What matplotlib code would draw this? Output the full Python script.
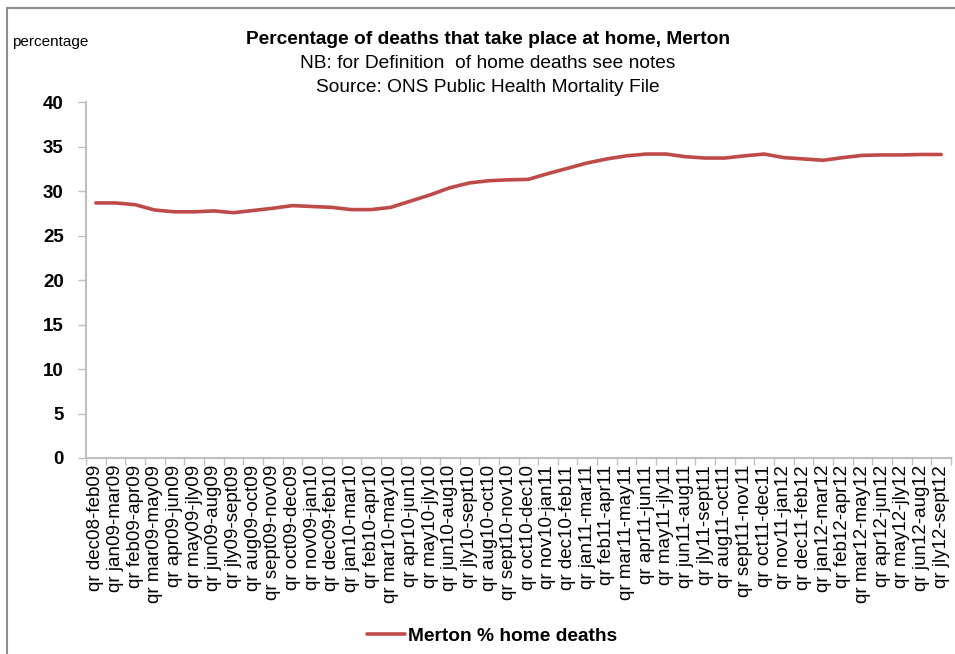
import matplotlib
matplotlib.use("Agg")
import matplotlib.pyplot as plt
from matplotlib import font_manager
from matplotlib.patches import Rectangle

names = {f.name for f in font_manager.fontManager.ttflist}
NARROW = "Liberation Sans Narrow" if "Liberation Sans Narrow" in names else "Liberation Sans"
plt.rcParams['font.family'] = ['Liberation Sans', 'DejaVu Sans']

categories = [
    "qr dec08-feb09", "qr jan09-mar09", "qr feb09-apr09", "qr mar09-may09",
    "qr apr09-jun09", "qr may09-jly09", "qr jun09-aug09", "qr jly09-sept09",
    "qr aug09-oct09", "qr sept09-nov09", "qr oct09-dec09", "qr nov09-jan10",
    "qr dec09-feb10", "qr jan10-mar10", "qr feb10-apr10", "qr mar10-may10",
    "qr apr10-jun10", "qr may10-jly10", "qr jun10-aug10", "qr jly10-sept10",
    "qr aug10-oct10", "qr sept10-nov10", "qr oct10-dec10", "qr nov10-jan11",
    "qr dec10-feb11", "qr jan11-mar11", "qr feb11-apr11", "qr mar11-may11",
    "qr apr11-jun11", "qr may11-jly11", "qr jun11-aug11", "qr jly11-sept11",
    "qr aug11-oct11", "qr sept11-nov11", "qr oct11-dec11", "qr nov11-jan12",
    "qr dec11-feb12", "qr jan12-mar12", "qr feb12-apr12", "qr mar12-may12",
    "qr apr12-jun12", "qr may12-jly12", "qr jun12-aug12", "qr jly12-sept12",
]
merton_home_pct = [
    28.7, 28.7, 28.5, 27.9, 27.7, 27.7, 27.8, 27.6, 27.85, 28.1,
    28.4, 28.3, 28.2, 27.95, 27.95, 28.2, 28.9, 29.6, 30.4, 30.95,
    31.2, 31.3, 31.35, 32.0, 32.6, 33.2, 33.65, 34.0, 34.2, 34.2,
    33.9, 33.75, 33.75, 34.0, 34.2, 33.8, 33.65, 33.5, 33.8, 34.05,
    34.1, 34.1, 34.15, 34.15,
]
yticks = [0, 5, 10, 15, 20, 25, 30, 35, 40]

fig = plt.figure(figsize=(9.55, 6.54), dpi=100)
ax = fig.add_axes([86/955, 1-458/654, (951-86)/955, (458-102.5)/654])

x = list(range(len(categories)))
line, = ax.plot(x, merton_home_pct, color="#be4b48", lw=2.6, solid_capstyle="round",
                label="Merton % home deaths")

ax.set_xlim(-0.5, len(categories) - 0.5)
ax.set_ylim(0, 40)
ax.set_yticks(yticks)
ax.set_yticklabels([str(v) for v in yticks], fontweight="bold", fontsize=13.5)
ax.set_xticks(x)
ax.set_xticklabels(categories, rotation=90, fontsize=13.5)
ax.set_xticks([i - 0.5 for i in range(len(categories) + 1)], minor=True)
ax.tick_params(axis="x", which="major", length=0, pad=5)
ax.tick_params(axis="x", which="minor", length=5, color="#bfbfbf", width=1)
ax.tick_params(axis="y", length=6, color="#bfbfbf", width=1, pad=10)

for s in ["top", "right"]:
    ax.spines[s].set_visible(False)
for s in ["left", "bottom"]:
    ax.spines[s].set_color("#bfbfbf")
    ax.spines[s].set_linewidth(1.5)

fig.text(488/955, 1-40/654, "Percentage of deaths that take place at home, Merton",
         ha="center", va="center", fontsize=13.8, fontweight="bold", family=NARROW)
fig.text(488/955, 1-63/654, "NB: for Definition  of home deaths see notes",
         ha="center", va="center", fontsize=13.8, family=NARROW)
fig.text(488/955, 1-87/654, "Source: ONS Public Health Mortality File",
         ha="center", va="center", fontsize=13.8, family=NARROW)
fig.text(12/955, 1-42/654, "percentage", ha="left", va="center", fontsize=11, family=NARROW)

leg = fig.legend(handles=[line], loc="center", bbox_to_anchor=(492/955, 1-636/654),
                 frameon=False, handlelength=2.0, handletextpad=0.15,
                 prop={"weight": "bold", "size": 13.8})

fig.add_artist(Rectangle((7/955, -0.1), 1.2, 1 - 7.5/654 + 0.1, transform=fig.transFigure,
                         fill=False, edgecolor="#8c8c8c", lw=1.5))

fig.savefig("out.png", dpi=100)
